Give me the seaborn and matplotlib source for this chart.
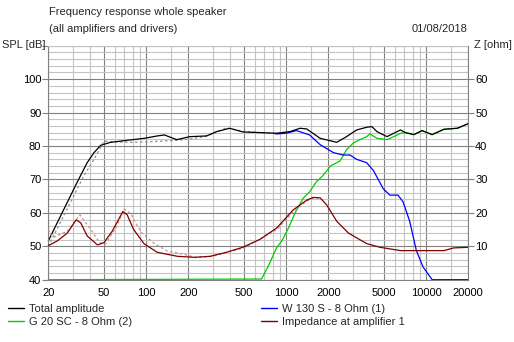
import matplotlib
matplotlib.use("Agg")
import matplotlib.pyplot as plt
from matplotlib.ticker import FixedLocator, FixedFormatter, NullFormatter
from matplotlib.lines import Line2D
import seaborn as sns

# --- measured data -------------------------------------------------------
# Total amplitude (dB)
total_f = [20, 32.2, 37.9, 42.4, 47.3, 55.8, 73.2, 96.9, 120, 135, 165, 206, 270, 318,
           395, 490, 652, 858, 1065, 1256, 1402, 1748, 2296, 2700, 3190, 3758, 4098,
           4452, 5250, 5876, 6557, 7121, 8159, 9356, 11040, 13400, 16700, 20000]
total_db = [51.6, 69.2, 75.0, 78.0, 80.2, 81.1, 81.7, 82.3, 83.0, 83.3, 81.9, 82.8, 83.0, 84.3,
            85.3, 84.2, 84.0, 83.8, 84.3, 85.3, 85.1, 82.3, 81.1, 82.8, 84.8, 85.6, 85.8,
            84.3, 82.8, 83.8, 84.8, 84.0, 83.4, 84.6, 83.4, 85.0, 85.3, 86.7]

# Previous total amplitude (dashed overlay)
total_ref_f = [20, 35.9, 42.4, 49.9, 73, 100, 120, 167, 208, 260, 297, 374, 490, 652, 858, 1065]
total_ref_db = [50.0, 71.1, 76.0, 81.4, 81.1, 81.2, 81.4, 81.7, 82.1, 82.8, 83.6, 85.4, 84.4,
                84.0, 83.8, 84.3]

# Tweeter G 20 SC (dB)
tweeter_f = [20, 667, 740, 858, 931, 1040, 1155, 1320, 1471, 1637, 1825, 2084, 2424, 2700,
             3019, 3364, 3758, 3960, 4452, 5250, 5876, 6557, 7121, 8159, 9356, 11040,
             13400, 16700, 20000]
tweeter_db = [40, 40.2, 43.8, 49.7, 51.6, 55.5, 59.9, 64.3, 66.3, 69.2, 71.1, 74.1, 75.5, 78.9,
              80.9, 81.9, 82.8, 83.6, 82.3, 81.9, 82.8, 83.8, 84.0, 83.4, 84.6, 83.4,
              85.0, 85.3, 86.7]

# Woofer W 130 S (dB)
woofer_f = [838, 1000, 1186, 1471, 1748, 2180, 2555, 2858, 3190, 3758, 4209, 4938, 5504,
            6297, 6836, 7627, 8514, 9503, 11040, 20000]
woofer_db = [83.6, 83.8, 84.6, 83.3, 80.4, 78.0, 77.3, 77.3, 76.0, 75.0, 72.6, 67.2, 65.3,
             65.3, 63.3, 57.5, 48.7, 43.8, 40.0, 40.0]

# Impedance at amplifier 1 (ohm)
imp_f = [20, 23.2, 27.4, 31.6, 34.1, 37.9, 44.9, 50, 57.2, 68.2, 73.2, 81.4, 96.9, 120, 167,
         220, 287, 374, 490, 652, 858, 1124, 1402, 1557, 1748, 1946, 2296, 2778, 3019,
         3758, 4676, 6557, 9000, 13420, 15660, 20000]
imp_ohm = [10.2, 11.6, 14.0, 17.9, 17.0, 13.1, 10.4, 11.1, 14.5, 20.4, 19.4, 15.0, 10.7, 8.2,
           7.0, 6.7, 7.0, 8.2, 9.7, 12.1, 15.5, 20.9, 23.8, 24.6, 24.5, 22.4, 17.5, 14.0,
           13.1, 10.8, 9.7, 8.7, 8.7, 8.7, 9.5, 9.7]

# Previous impedance (dashed overlay)
imp_ref_f = [20, 21.5, 27.4, 33.6, 40.3, 46.4, 51.3, 60.8, 69.6, 77.1, 91.5, 113.5, 141, 186,
             229, 300, 500, 858, 1124, 1402, 1557, 1748]
imp_ref_ohm = [15.0, 12.6, 14.5, 19.4, 15.0, 11.1, 10.7, 15.5, 21.1, 19.9, 14.3, 10.9, 8.6,
               7.6, 6.6, 7.0, 9.5, 15.0, 20.3, 23.5, 24.4, 24.5]

# Axis ticks
freq_major = [20, 50, 100, 200, 500, 1000, 2000, 5000, 10000, 20000]
freq_labels = ["20", "50", "100", "200", "500", "1000", "2000", "5000", "10000", "20000"]
freq_minor = [30, 40, 60, 70, 80, 90, 150, 300, 400, 600, 700, 800, 900, 1500, 3000, 4000,
              6000, 7000, 8000, 9000, 15000]
spl_ticks = [40, 50, 60, 70, 80, 90, 100]
ohm_ticks = [10, 20, 30, 40, 50, 60]

# --- styling ----------------------------------------------------------------
sns.set_theme(style="white")
plt.rcParams["font.family"] = ["Liberation Sans", "DejaVu Sans"]
plt.rcParams["font.size"] = 8

DARK = "#808080"
LIGHT = "#c4c4c4"

fig = plt.figure(figsize=(5.14, 3.42), dpi=100)
ax = fig.add_axes([48.3 / 514, 1 - 279.7 / 342, 420 / 514, 234 / 342])
ax2 = ax.twinx()

lw = 0.9
sns.lineplot(x=total_ref_f, y=total_ref_db, ax=ax, color="#909090", lw=lw,
             linestyle=(0, (2, 2)), estimator=None, sort=False)
sns.lineplot(x=tweeter_f, y=tweeter_db, ax=ax, color="#00cc00", lw=lw,
             estimator=None, sort=False)
sns.lineplot(x=woofer_f, y=woofer_db, ax=ax, color="#0000ff", lw=lw,
             estimator=None, sort=False)
sns.lineplot(x=total_f, y=total_db, ax=ax, color="#000000", lw=lw,
             estimator=None, sort=False)
sns.lineplot(x=imp_ref_f, y=imp_ref_ohm, ax=ax2, color="#c89090", lw=lw,
             linestyle=(0, (2, 2)), estimator=None, sort=False)
sns.lineplot(x=imp_f, y=imp_ohm, ax=ax2, color="#800000", lw=lw,
             estimator=None, sort=False)
for a in (ax, ax2):
    for ln in a.get_lines():
        ln.set_clip_on(False)

ax.set_xscale("log")
ax.set_xlim(20, 20000)
ax.set_ylim(40, 110)
ax2.set_ylim(0, 70)

ax.xaxis.set_major_locator(FixedLocator(freq_major))
ax.xaxis.set_major_formatter(FixedFormatter(freq_labels))
ax.xaxis.set_minor_locator(FixedLocator(freq_minor))
ax.xaxis.set_minor_formatter(NullFormatter())
ax.yaxis.set_major_locator(FixedLocator(spl_ticks + [110]))
ax.yaxis.set_major_formatter(FixedFormatter([str(v) for v in spl_ticks] + [""]))
ax.yaxis.set_minor_locator(FixedLocator([v for v in range(40, 111, 2) if v % 10]))
ax2.yaxis.set_major_locator(FixedLocator(ohm_ticks))
ax2.yaxis.set_minor_locator(FixedLocator([]))

ax.grid(which="major", color=DARK, lw=0.8)
ax.grid(which="minor", color=LIGHT, lw=0.8)
ax2.grid(False)
ax.set_axisbelow(True)

ax.tick_params(axis="both", which="major", direction="out", length=4, width=0.8,
               color=DARK, labelcolor="black", labelsize=8, pad=1)
ax.tick_params(axis="x", which="major", length=3, pad=3)
ax.tick_params(which="minor", length=0)
ax.tick_params(axis="y", which="major", left=True)
ax2.tick_params(axis="y", which="major", direction="out", length=4, width=0.8,
                color=DARK, labelcolor="black", labelsize=8, pad=1, right=True)

ax.spines["right"].set_visible(False)
ax.spines["top"].set_color(LIGHT)
ax.spines["left"].set_color(DARK)
ax.spines["bottom"].set_color(DARK)
for s in ("left", "top", "bottom"):
    ax2.spines[s].set_visible(False)
ax2.spines["right"].set_color(DARK)
for a in (ax, ax2):
    for sp in a.spines.values():
        sp.set_linewidth(0.8)
ax.set_xlabel("")
ax.set_ylabel("")
ax2.set_ylabel("")

# --- header texts -----------------------------------------------------------
def fy(py):
    return 1 - py / 342

fig.text(49 / 514, fy(12), "Frequency response whole speaker", ha="left", va="center", fontsize=8)
fig.text(49 / 514, fy(29), "(all amplifiers and drivers)", ha="left", va="center", fontsize=8)
fig.text(468 / 514, fy(29), "01/08/2018", ha="right", va="center", fontsize=8)
fig.text(2 / 514, fy(45), "SPL [dB]", ha="left", va="center", fontsize=8)
fig.text(474 / 514, fy(45), "Z [ohm]", ha="left", va="center", fontsize=8)

# --- legends ----------------------------------------------------------------
def handle(color):
    return Line2D([], [], color=color, lw=1.0)

leg_kw = dict(loc="upper left", frameon=False, borderpad=0, borderaxespad=0,
              handlelength=1.45, handletextpad=0.45, labelspacing=0.32, fontsize=8)
fig.legend([handle("#000000"), handle("#00cc00")],
           ["Total amplitude", "G 20 SC - 8 Ohm (2)"],
           bbox_to_anchor=(8 / 514, fy(303.5)), **leg_kw)
fig.legend([handle("#0000ff"), handle("#800000")],
           ["W 130 S - 8 Ohm (1)", "Impedance at amplifier 1"],
           bbox_to_anchor=(261 / 514, fy(303.5)), **leg_kw)

fig.savefig("out.png", dpi=100)
